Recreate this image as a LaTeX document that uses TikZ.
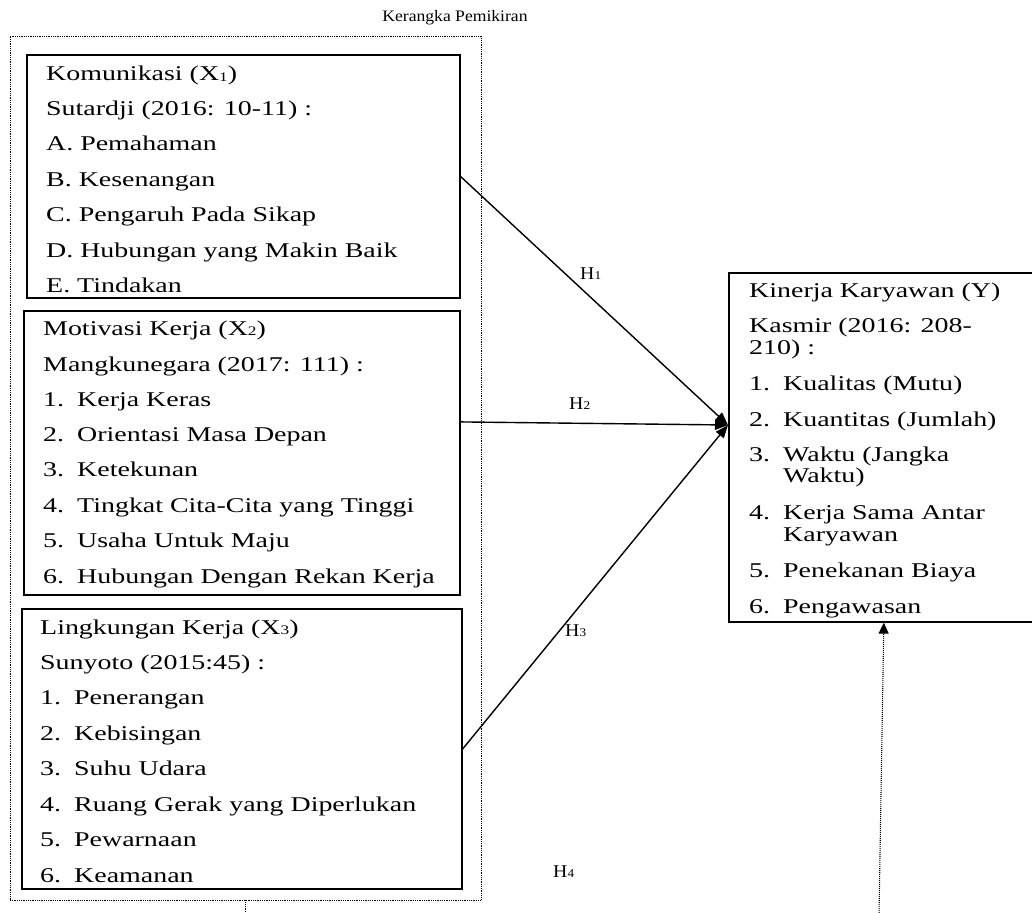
\documentclass[tikz,border=0pt]{standalone}
\usepackage{fontspec}
\setmainfont{Liberation Serif}[FakeStretch=1.33]
\newfontfamily\tfont{Liberation Serif}[FakeStretch=1.1]
\usetikzlibrary{arrows.meta,calc}
\newcommand\sbs[1]{\raisebox{-0.5pt}{\fontsize{13}{13}\selectfont #1}}
\newcommand\hsb[1]{\raisebox{-0.3pt}{\fontsize{12}{12}\selectfont #1}}
\newcommand\itm[2]{\makebox[34pt][l]{#1}#2}
\begin{document}
\begin{tikzpicture}[x=1pt,y=-1pt,
  box/.style={draw,line width=1.2pt,rectangle,inner sep=0pt},
  framebox/.style={draw,line width=0.9pt,dash pattern=on 0.9pt off 0.9pt,inner sep=0pt},
  ln/.style={anchor=base west,inner sep=0pt,font=\fontsize{21}{25}\selectfont},
  hl/.style={anchor=base west,inner sep=0pt,font=\tfont\fontsize{18}{20}\selectfont},
  conn/.style={line width=1.4pt,-{Triangle[length=13pt,width=10pt]}},
  dline/.style={line width=1.1pt,dash pattern=on 1pt off 1pt},
  dtip/.style={line width=1.1pt,-{Triangle[length=11pt,width=10pt]}}
]
\useasboundingbox (0,0) rectangle (1032,912);
\clip (0,0) rectangle (1032,912);

\node[anchor=base,inner sep=0pt,font=\tfont\fontsize{16}{19}\selectfont] (title) at (455,22) {Kerangka Pemikiran};

\node[framebox,minimum width=471pt,minimum height=864pt] (frame) at (245.5,468) {};
\node[box,minimum width=433pt,minimum height=243pt] (bx1) at (243.5,176.5) {};
\node[box,minimum width=436pt,minimum height=284pt] (bx2) at (242,453) {};
\node[box,minimum width=440pt,minimum height=280pt] (bx3) at (242,749) {};
\node[box,minimum width=316pt,minimum height=349pt] (by) at (887,447.5) {};

% X1
\node[ln] (a1) at (46,81) {Komunikasi (X\sbs{1})};
\node[ln] (a2) at (46,116) {Sutardji (2016: 10-11) :};
\node[ln] (a3) at (46,151) {A. Pemahaman};
\node[ln] (a4) at (46,186) {B. Kesenangan};
\node[ln] (a5) at (46,221) {C. Pengaruh Pada Sikap};
\node[ln] (a6) at (46,257) {D. Hubungan yang Makin Baik};
\node[ln] (a7) at (46,292) {E. Tindakan};

% X2
\node[ln] (b1) at (43,335) {Motivasi Kerja (X\sbs{2})};
\node[ln] (b2) at (43,371) {Mangkunegara (2017: 111) :};
\node[ln] (b3) at (43,406) {\itm{1.}{Kerja Keras}};
\node[ln] (b4) at (43,441) {\itm{2.}{Orientasi Masa Depan}};
\node[ln] (b5) at (43,476) {\itm{3.}{Ketekunan}};
\node[ln] (b6) at (43,512) {\itm{4.}{Tingkat Cita-Cita yang Tinggi}};
\node[ln] (b7) at (43,547) {\itm{5.}{Usaha Untuk Maju}};
\node[ln] (b8) at (43,583) {\itm{6.}{Hubungan Dengan Rekan Kerja}};

% X3
\node[ln] (c1) at (40,634) {Lingkungan Kerja (X\sbs{3})};
\node[ln] (c2) at (40,669) {Sunyoto (2015:45) :};
\node[ln] (c3) at (40,704) {\itm{1.}{Penerangan}};
\node[ln] (c4) at (40,740) {\itm{2.}{Kebisingan}};
\node[ln] (c5) at (40,775) {\itm{3.}{Suhu Udara}};
\node[ln] (c6) at (40,811) {\itm{4.}{Ruang Gerak yang Diperlukan}};
\node[ln] (c7) at (40,846) {\itm{5.}{Pewarnaan}};
\node[ln] (c8) at (40,882) {\itm{6.}{Keamanan}};

% Y
\node[ln] (y1) at (749,297) {Kinerja Karyawan (Y)};
\node[ln] (y2) at (749,332) {Kasmir (2016: 208-};
\node[ln] (y3) at (749,354) {210) :};
\node[ln] (y4) at (749,390) {\itm{1.}{Kualitas (Mutu)}};
\node[ln] (y5) at (749,426) {\itm{2.}{Kuantitas (Jumlah)}};
\node[ln] (y6) at (749,461) {\itm{3.}{Waktu (Jangka}};
\node[ln] (y7) at (783,482) {Waktu)};
\node[ln] (y8) at (749,519) {\itm{4.}{Kerja Sama Antar}};
\node[ln] (y9) at (783,541) {Karyawan};
\node[ln] (y10) at (749,577) {\itm{5.}{Penekanan Biaya}};
\node[ln] (y11) at (749,613) {\itm{6.}{Pengawasan}};

% hypothesis labels
\node[hl] (h1) at (580,279) {H\hsb{1}};
\node[hl] (h2) at (569,409) {H\hsb{2}};
\node[hl] (h3) at (565,636) {H\hsb{3}};
\node[hl] (h4) at (553,877) {H\hsb{4}};

% connectors
\coordinate (tip) at (728,425);
\draw[conn] (bx1.east) -- (tip);
\draw[conn] ($(bx2.north east)!0.391!(bx2.south east)$) -- (tip);
\draw[conn] (bx3.east) -- (tip);

\coordinate (fb) at (245,915);
\draw[line width=0.9pt,dash pattern=on 0.9pt off 0.9pt] (frame.south) -- (frame.south |- fb);

\coordinate (ds) at (879,915);
\coordinate (dt) at ($(by.south west)!0.49!(by.south east)$);
\draw[dline] (ds) -- ($(ds)!0.97!(dt)$);
\draw[dtip] ($(ds)!0.96!(dt)$) -- (dt);
\end{tikzpicture}
\end{document}
